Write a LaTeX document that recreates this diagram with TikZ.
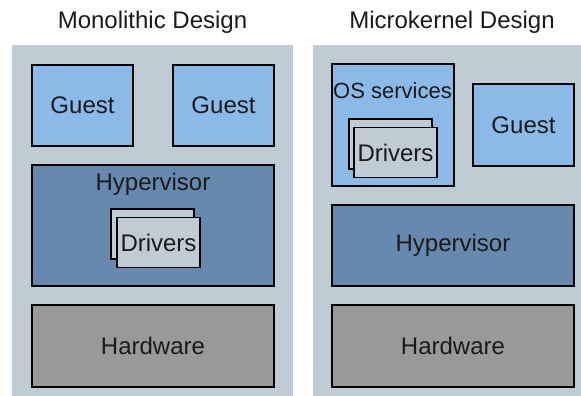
\documentclass[tikz,border=0pt]{standalone}
\usepackage{fontspec}
\setmainfont{Liberation Sans}
\definecolor{panelbg}{HTML}{BFCCD3}
\definecolor{guestfill}{HTML}{8CBAE8}
\definecolor{hypfill}{HTML}{6789AE}
\definecolor{hwfill}{HTML}{999999}
\definecolor{inktext}{HTML}{1A1A1A}
\begin{document}
\begin{tikzpicture}[x=1pt,y=-1pt,
  txt/.style={font=\fontsize{24}{28}\selectfont, text=inktext, inner sep=0pt},
  blk/.style={draw=black, line width=1.4pt, inner sep=0pt, txt},
  guest/.style={blk, fill=guestfill, minimum width=101pt, minimum height=81pt},
  hyp/.style={blk, fill=hypfill, minimum width=242pt},
  hw/.style={blk, fill=hwfill, minimum width=242pt, minimum height=82pt},
  drv/.style={blk, fill=panelbg, minimum width=83pt, minimum height=50pt},
  panel/.style={fill=panelbg, draw=none}]
\useasboundingbox (0,0) rectangle (581,396);

% panels
\fill[panel] (12,45) rectangle (293,396);
\fill[panel] (313,45) rectangle (581,396);

% titles
\node[txt] (t1) at (152.5,22) {Monolithic Design};
\node[txt] (t2) at (452,22) {Microkernel Design};

% monolithic design
\node[guest] (g1) at (82.5,105.5) {Guest};
\node[guest] (g2) at (223.5,105.5) {Guest};
\node[hyp, minimum height=121pt] (h1) at (153,225.5) {};
\node[txt] (h1t) at (153,184) {Hypervisor};
\node[drv] (d1b) at (152.5,234) {Drivers};
\node[drv] (d1f) at (158.5,242.5) {Drivers};
\node[hw] (hw1) at (153,346) {Hardware};

% microkernel design
\node[blk, fill=guestfill, minimum width=122pt, minimum height=122pt] (os) at (393,125) {};
\node[txt, font=\fontsize{22}{26}\selectfont] (ost) at (392.5,91) {OS services};
\node[drv] (d2b) at (390.5,144) {Drivers};
\node[drv] (d2f) at (395.5,152.5) {Drivers};
\node[guest, minimum height=82pt] (g3) at (523.5,125) {Guest};
\node[hyp, minimum height=81pt] (h2) at (453,245.5) {Hypervisor};
\node[hw] (hw2) at (453,346) {Hardware};
\end{tikzpicture}
\end{document}
